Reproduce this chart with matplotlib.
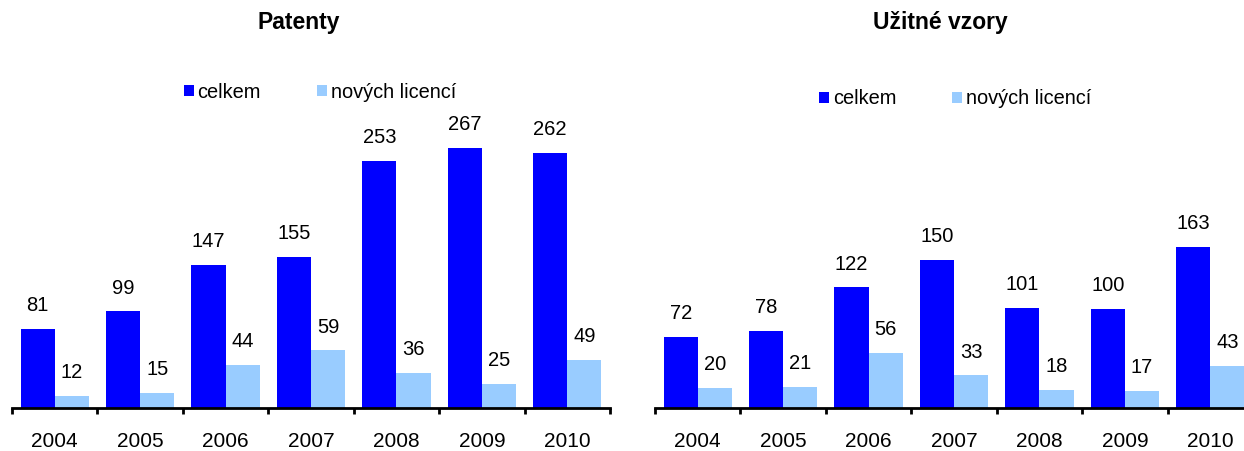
import numpy as np
import matplotlib.pyplot as plt

plt.rcParams['font.family'] = ['Liberation Sans', 'DejaVu Sans']

years = ['2004', '2005', '2006', '2007', '2008', '2009', '2010']
patenty_celkem = [81, 99, 147, 155, 253, 267, 262]
patenty_nove = [12, 15, 44, 59, 36, 25, 49]
vzory_celkem = [72, 78, 122, 150, 101, 100, 163]
vzory_nove = [20, 21, 56, 33, 18, 17, 43]

series_names = ['celkem', 'nových licencí']
DARK = '#0000FF'
LIGHT = '#99CCFF'

W, H = 1244, 451
fig = plt.figure(figsize=(W / 100, H / 100), dpi=100)


def px_axes(x0, x1, base, height):
    return fig.add_axes([x0 / W, (H - base) / H, (x1 - x0) / W, height / H])


def draw_panel(ax, title, total, new, title_x, legend_xy):
    x = np.arange(len(years))
    w = 0.4
    b1 = ax.bar(x - w / 2, total, w, color=DARK, label=series_names[0])
    b2 = ax.bar(x + w / 2, new, w, color=LIGHT, label=series_names[1])
    for bars in (b1, b2):
        for rect in bars:
            ax.annotate(f'{rect.get_height():.0f}',
                        (rect.get_x() + rect.get_width() / 2, rect.get_height()),
                        xytext=(0, 10), textcoords='offset points',
                        ha='center', va='bottom', fontsize=14.5)
    ax.set_xlim(-0.5, len(years) - 0.5)
    ax.set_ylim(0, 300)
    ax.set_yticks([])
    for s in ('left', 'right', 'top'):
        ax.spines[s].set_visible(False)
    ax.spines['bottom'].set_linewidth(2)
    ax.set_xticks(x)
    ax.set_xticklabels(years, fontsize=15)
    ax.tick_params(axis='x', which='major', length=0, pad=17)
    ax.set_xticks(np.arange(-0.5, len(years)), minor=True)
    ax.tick_params(axis='x', which='minor', length=4, width=2, direction='out')
    fig.text(title_x / W, 1 - 22 / H, title, ha='center', va='center',
             fontsize=16.5, fontweight='bold')
    ax.legend(ncol=2, loc='center', frameon=False, fontsize=14.4,
              bbox_to_anchor=(legend_xy[0] / W, 1 - legend_xy[1] / H),
              bbox_transform=fig.transFigure,
              handlelength=0.5, handleheight=0.5, handletextpad=0.2,
              columnspacing=2.8)


ax1 = px_axes(12, 610, 408, 300 * 0.975)
draw_panel(ax1, 'Patenty', patenty_celkem, patenty_nove, 299, (320, 92))

ax2 = px_axes(655, 1253, 408, 300 * 0.988)
draw_panel(ax2, 'Užitné vzory', vzory_celkem, vzory_nove, 940, (955, 99))

fig.savefig('out.png', dpi=100)
